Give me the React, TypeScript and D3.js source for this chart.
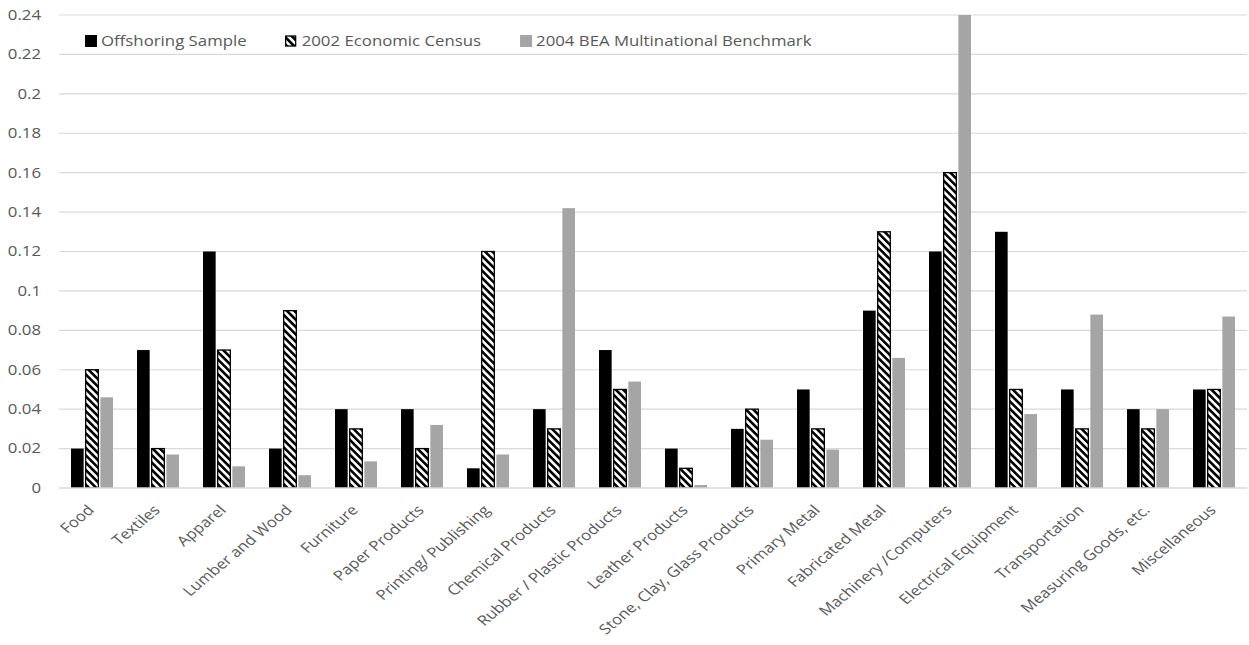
import React, { useEffect, useRef } from 'react';
import * as d3 from 'd3';

const categories = [
  'Food', 'Textiles', 'Apparel', 'Lumber and Wood', 'Furniture', 'Paper Products',
  'Printing/ Publishing', 'Chemical Products', 'Rubber / Plastic Products', 'Leather Products',
  'Stone, Clay, Glass Products', 'Primary Metal', 'Fabricated Metal', 'Machinery /Computers',
  'Electrical Equipment', 'Transportation', 'Measuring Goods, etc.', 'Miscellaneous'
];

const seriesNames = ['Offshoring Sample', '2002 Economic Census', '2004 BEA Multinational Benchmark'];

const offshoring = [0.02, 0.07, 0.12, 0.02, 0.04, 0.04, 0.01, 0.04, 0.07, 0.02, 0.03, 0.05, 0.09, 0.12, 0.13, 0.05, 0.04, 0.05];
const census2002 = [0.06, 0.02, 0.07, 0.09, 0.03, 0.02, 0.12, 0.03, 0.05, 0.01, 0.04, 0.03, 0.13, 0.16, 0.05, 0.03, 0.03, 0.05];
const bea2004 = [0.046, 0.017, 0.011, 0.0065, 0.0135, 0.032, 0.017, 0.142, 0.054, 0.0015, 0.0245, 0.0195, 0.066, 0.25, 0.0375, 0.088, 0.04, 0.087];

const yTicks = [0, 0.02, 0.04, 0.06, 0.08, 0.1, 0.12, 0.14, 0.16, 0.18, 0.2, 0.22, 0.24];

const FONT = '"Open Sans", sans-serif';
const TEXT_COLOR = '#595959';
const GRID_COLOR = '#d9d9d9';
// the source picture is a bit stretched sideways, text included
const SX = 1.2;

export default function App() {
  const ref = useRef<SVGSVGElement | null>(null);

  useEffect(() => {
    if (!ref.current) return;
    const svg = d3.select(ref.current);
    svg.selectAll('*').remove();

    const left = 59, right = 1247, top = 15, bottom = 488;

    const x = d3.scaleBand().domain(categories).range([left, right]).padding(0);
    const x1 = d3.scaleBand().domain(seriesNames).range([-21, 21]).paddingInner(0.138).paddingOuter(0);
    const y = d3.scaleLinear().domain([0, 0.24]).range([bottom, top]);

    // hatch pattern
    const defs = svg.append('defs');
    const pat = defs.append('pattern')
      .attr('id', 'hatch')
      .attr('patternUnits', 'userSpaceOnUse')
      .attr('width', 5.2)
      .attr('height', 5.2)
      .attr('patternTransform', 'rotate(45)');
    pat.append('rect').attr('width', 5.2).attr('height', 5.2).attr('fill', '#fff');
    pat.append('rect').attr('width', 5.2).attr('height', 2.6).attr('fill', '#000');

    defs.append('clipPath').attr('id', 'plotclip')
      .append('rect').attr('x', left).attr('y', top).attr('width', right - left).attr('height', bottom - top);

    // gridlines
    svg.append('g')
      .selectAll('line')
      .data(yTicks.slice(1))
      .enter()
      .append('line')
      .attr('x1', left)
      .attr('x2', right)
      .attr('y1', d => y(d))
      .attr('y2', d => y(d))
      .attr('stroke', GRID_COLOR)
      .attr('stroke-width', 1.2);

    // y labels
    svg.append('g')
      .selectAll('text')
      .data(yTicks)
      .enter()
      .append('text')
      .attr('transform', d => `translate(41,${y(d)}) scale(${SX},1)`)
      .attr('dy', '0.35em')
      .attr('text-anchor', 'end')
      .style('font-family', FONT)
      .style('font-size', '14px')
      .attr('fill', TEXT_COLOR)
      .text(d => String(d));

    // bars
    const series = [
      { name: seriesNames[0], values: offshoring },
      { name: seriesNames[1], values: census2002 },
      { name: seriesNames[2], values: bea2004 }
    ];
    const fills: Record<string, string> = {
      [seriesNames[0]]: '#000000',
      [seriesNames[1]]: 'url(#hatch)',
      [seriesNames[2]]: '#a5a5a5'
    };

    const bars = svg.append('g').attr('clip-path', 'url(#plotclip)');
    series.forEach(s => {
      bars.selectAll(null)
        .data(s.values)
        .enter()
        .append('rect')
        .attr('x', (d, i) => x(categories[i])! + x.bandwidth() / 2 + x1(s.name)!)
        .attr('y', d => y(d))
        .attr('width', x1.bandwidth())
        .attr('height', d => bottom - y(d))
        .attr('fill', fills[s.name])
        .attr('stroke', s.name === seriesNames[1] ? '#000' : 'none')
        .attr('stroke-width', 1.3);
    });

    // x axis line
    svg.append('line')
      .attr('x1', left)
      .attr('x2', right)
      .attr('y1', bottom)
      .attr('y2', bottom)
      .attr('stroke', GRID_COLOR)
      .attr('stroke-width', 1.5);

    // x labels, rotated
    svg.append('g')
      .selectAll('text')
      .data(categories)
      .enter()
      .append('text')
      .attr('transform', d => `translate(${x(d)! + x.bandwidth() / 2 + 3},${bottom + 23}) scale(${SX},1) rotate(-45)`)
      .attr('text-anchor', 'end')
      .style('font-family', FONT)
      .style('font-size', '14px')
      .attr('fill', TEXT_COLOR)
      .text(d => d);

    // legend
    const legend = svg.append('g');
    let lx = 85;
    series.forEach((s, i) => {
      const sq = i === 1 ? 10 : 12;
      legend.append('rect')
        .attr('x', lx)
        .attr('y', 41 - sq / 2)
        .attr('width', sq)
        .attr('height', sq)
        .attr('fill', fills[s.name])
        .attr('stroke', i === 1 ? '#000' : 'none')
        .attr('stroke-width', 1.3);
      const t = legend.append('text')
        .attr('transform', `translate(${lx + 16},41) scale(${SX},1)`)
        .attr('dy', '0.35em')
        .style('font-family', FONT)
        .style('font-size', '14px')
        .attr('fill', TEXT_COLOR)
        .text(s.name);
      const w = (t.node() as SVGTextElement).getComputedTextLength() * SX;
      lx = lx + 16 + w + 39;
    });
  }, []);

  return (
    <svg
      ref={ref}
      width={1249}
      height={645}
      style={{ position: 'absolute', left: 0, top: 0, background: '#fff' }}
    />
  );
}
